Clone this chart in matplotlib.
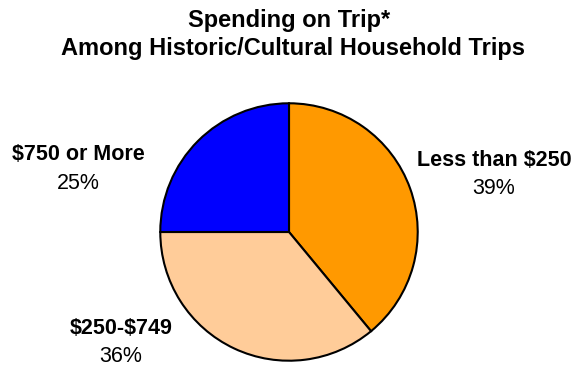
import matplotlib.pyplot as plt

plt.rcParams['font.family'] = ['Liberation Sans', 'DejaVu Sans']
plt.rcParams['text.parse_math'] = False

categories = ['Less than $250', '$250-$749', '$750 or More']
shares = [39, 36, 25]
colors = ['#FF9900', '#FFCC99', '#0000FF']

W, H = 571, 370
fig = plt.figure(figsize=(W / 100, H / 100), dpi=100)

# pie centred at (289, 232) px with a 130 px radius
cx, cy, r = 289, 232, 130
ax = fig.add_axes([(cx - r) / W, (H - cy - r) / H, 2 * r / W, 2 * r / H])
ax.pie(shares, colors=colors, startangle=90, counterclock=False,
       radius=1, wedgeprops=dict(edgecolor='black', linewidth=1.5))
ax.set_xlim(-1.01, 1.01)
ax.set_ylim(-1.01, 1.01)
ax.set_aspect('equal')
ax.axis('off')

fig.text(289 / W, 1 - 20 / H, 'Spending on Trip*', ha='center', va='center',
         fontsize=17, fontweight='bold')
fig.text(293 / W, 1 - 48 / H, 'Among Historic/Cultural Household Trips',
         ha='center', va='center', fontsize=17, fontweight='bold')

label_pos = [(494, 160), (121, 329), (78, 155)]
for name, val, (x, y) in zip(categories, shares, label_pos):
    fig.text(x / W, 1 - y / H, name, ha='center', va='center',
             fontsize=15.5, fontweight='bold')
    fig.text(x / W, 1 - (y + 28) / H, f'{val}%', ha='center', va='center',
             fontsize=15.5)

fig.savefig('out.png', dpi=100)
